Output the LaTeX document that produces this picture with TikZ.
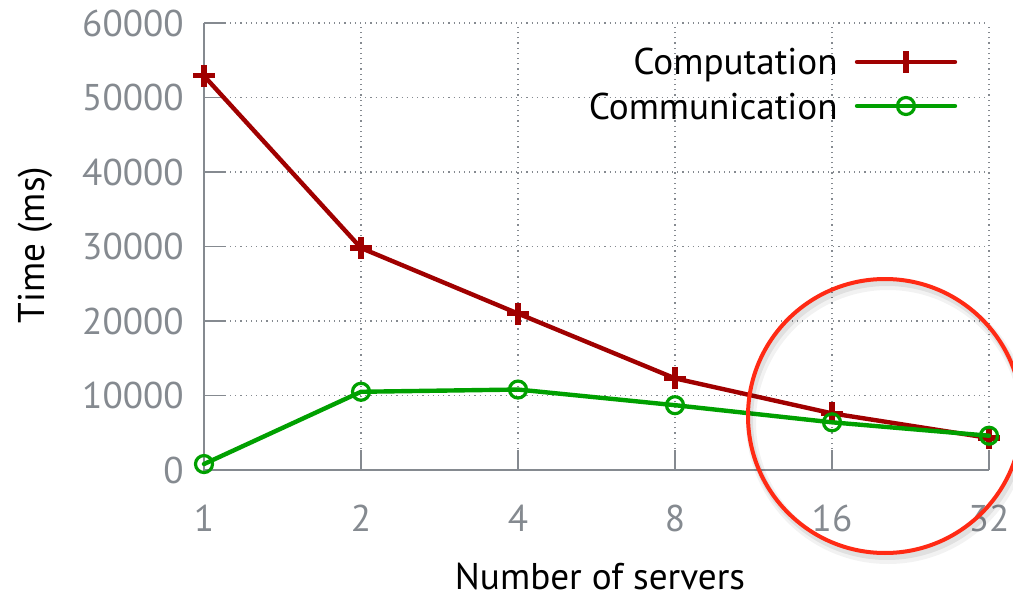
\documentclass[tikz,border=0pt]{standalone}
\usepackage{fontspec}
\setmainfont{PT Sans}
\usetikzlibrary{calc}
\definecolor{compred}{HTML}{A00000}
\definecolor{commgreen}{HTML}{00A000}
\definecolor{axisgray}{HTML}{858A90}
\definecolor{ringred}{HTML}{FF2A14}

\begin{document}
\begin{tikzpicture}[x=0.5pt,y=-0.5pt,
    every node/.style={font=\fontsize{18.6}{21}\selectfont,inner sep=0pt},
    ticklabel/.style={text=axisgray},
    axisline/.style={draw=axisgray,line width=0.6pt},
    gridline/.style={draw=axisgray,line width=0.6pt,dotted},
    compline/.style={draw=compred,line width=2.2pt,line join=round,line cap=round},
    commline/.style={draw=commgreen,line width=2.2pt,line join=round,line cap=round},
    commmark/.style={circle,draw=commgreen,line width=1.6pt,minimum size=8.5pt}]
  \useasboundingbox[fill=white] (0,0) rectangle (1013,599);

  \begin{scope}[shift={(204,470)},x=78.5pt,y=3.725pt]
    % grid and axes
    \foreach \i in {1,...,5} \draw[gridline] (\i,0) -- (\i,60);
    \foreach \v in {10,20,...,60} \draw[gridline] (0,\v) -- (5,\v);
    \draw[axisline] (0,60) -- (0,0) -- (5,0);
    \foreach \v/\t in {0/0,10/10000,20/20000,30/30000,40/40000,50/50000,60/60000} {
      \draw[axisline] (0,\v) -- ++(10.5pt,0pt);
      \node[ticklabel,anchor=east] (ylab\v) at ($(0,\v)+(-10pt,0pt)$) {\t};
    }
    \foreach \i/\n in {0/1,1/2,2/4,3/8,4/16,5/32} {
      \draw[axisline] (\i,0) -- ++(0pt,10pt);
      \node[ticklabel] (xlab\n) at ($(\i,0)+(0pt,-24pt)$) {\n};
    }

    % data, in thousands of ms
    \foreach \v [count=\k] in {52.9,29.8,21.0,12.3,7.6,4.3}
      \coordinate (comp\k) at (\k-1,\v);
    \foreach \v [count=\k] in {0.8,10.5,10.8,8.7,6.4,4.6}
      \coordinate (comm\k) at (\k-1,\v);

    \draw[compline] (comp1) -- (comp2) -- (comp3) -- (comp4) -- (comp5) -- (comp6);
    \foreach \k in {1,...,6}
      \draw[compred,line width=2.6pt] ($(comp\k)+(-5.5pt,0pt)$) -- ++(11pt,0pt)
        ($(comp\k)+(0pt,-5.5pt)$) -- ++(0pt,11pt);
    \draw[commline] (comm1) -- (comm2) -- (comm3) -- (comm4) -- (comm5) -- (comm6);
    \foreach \k in {1,...,6} \node[commmark] (commdot\k) at (comm\k) {};
  \end{scope}

  % legend
  \node[anchor=base east] (compkey) at (838,75) {Computation};
  \node[anchor=base east] (commkey) at (838,120) {Communication};
  \coordinate (compa) at (857,62); \coordinate (compb) at (955,62);
  \coordinate (comma) at (857,106); \coordinate (commb) at (955,106);
  \draw[compline] (compa) -- (compb);
  \draw[compred,line width=2.6pt] ($(compa)!.5!(compb)+(0pt,-5.5pt)$) -- ++(0pt,11pt);
  \draw[commline] (comma) -- (commb);
  \node[commmark] (commkeydot) at ($(comma)!.5!(commb)$) {};

  % axis titles
  \node[rotate=90] (ytitle) at (35,245) {Time (ms)};
  \node[anchor=base] (xtitle) at (600,589) {Number of servers};

  % highlight ring
  \draw[black,opacity=.07,line width=3pt] (887,420) circle [radius=137];
  \draw[black,opacity=.05,line width=5pt] (888,422) circle [radius=137];
  \draw[ringred,line width=2pt] (885,416) circle [radius=137];
\end{tikzpicture}
\end{document}
